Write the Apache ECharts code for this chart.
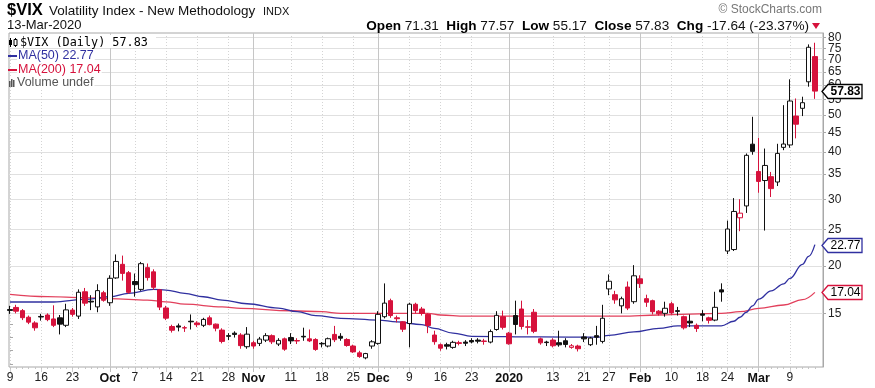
<!DOCTYPE html>
<html><head><meta charset="utf-8">
<script src="https://cdn.jsdelivr.net/npm/echarts@6/dist/echarts.min.js"></script>
<style>html,body{margin:0;padding:0;background:#fff}#c{width:875px;height:388px}</style>
</head><body><div id="c"></div>
<script>
// ---------- DATA ----------
const dates = [
'2019-09-09','2019-09-10','2019-09-11','2019-09-12','2019-09-13','2019-09-16','2019-09-17','2019-09-18','2019-09-19','2019-09-20','2019-09-23','2019-09-24','2019-09-25','2019-09-26','2019-09-27','2019-09-30',
'2019-10-01','2019-10-02','2019-10-03','2019-10-04','2019-10-07','2019-10-08','2019-10-09','2019-10-10','2019-10-11','2019-10-14','2019-10-15','2019-10-16','2019-10-17','2019-10-18','2019-10-21','2019-10-22','2019-10-23','2019-10-24','2019-10-25','2019-10-28','2019-10-29','2019-10-30','2019-10-31',
'2019-11-01','2019-11-04','2019-11-05','2019-11-06','2019-11-07','2019-11-08','2019-11-11','2019-11-12','2019-11-13','2019-11-14','2019-11-15','2019-11-18','2019-11-19','2019-11-20','2019-11-21','2019-11-22','2019-11-25','2019-11-26','2019-11-27','2019-11-29',
'2019-12-02','2019-12-03','2019-12-04','2019-12-05','2019-12-06','2019-12-09','2019-12-10','2019-12-11','2019-12-12','2019-12-13','2019-12-16','2019-12-17','2019-12-18','2019-12-19','2019-12-20','2019-12-23','2019-12-24','2019-12-26','2019-12-27','2019-12-30','2019-12-31',
'2020-01-02','2020-01-03','2020-01-06','2020-01-07','2020-01-08','2020-01-09','2020-01-10','2020-01-13','2020-01-14','2020-01-15','2020-01-16','2020-01-17','2020-01-21','2020-01-22','2020-01-23','2020-01-24','2020-01-27','2020-01-28','2020-01-29','2020-01-30','2020-01-31',
'2020-02-03','2020-02-04','2020-02-05','2020-02-06','2020-02-07','2020-02-10','2020-02-11','2020-02-12','2020-02-13','2020-02-14','2020-02-18','2020-02-19','2020-02-20','2020-02-21','2020-02-24','2020-02-25','2020-02-26','2020-02-27','2020-02-28',
'2020-03-02','2020-03-03','2020-03-04','2020-03-05','2020-03-06','2020-03-09','2020-03-10','2020-03-11','2020-03-12','2020-03-13'];

const opens = [
15.35,15.55,15.25,14.65,14.15,14.72,14.85,14.5,14.6,13.95,15.3,14.75,17.1,16.15,15.6,17.0,
16.0,18.6,20.2,19.2,18.2,17.35,19.8,19.3,17.3,15.5,13.85,13.9,13.75,14.3,14.15,13.95,14.6,14.05,13.55,13.1,13.3,13.15,12.25,
12.55,12.5,12.75,13.1,12.45,12.85,12.95,12.72,13.05,12.85,12.8,12.5,12.3,13.2,13.05,12.8,12.3,11.8,11.45,12.3,
12.5,14.7,16.2,14.6,14.25,14.1,15.85,15.4,14.9,13.15,12.4,12.4,12.2,12.55,12.6,12.72,12.75,12.68,12.6,13.6,14.7,
13.3,14.8,15.4,13.82,15.1,12.85,12.6,12.75,12.55,12.7,12.2,12.3,13.0,12.4,13.1,12.65,17.4,16.8,15.7,17.6,16.1,
18.5,16.4,16.2,15.2,15.0,15.9,15.25,14.7,14.3,13.95,14.95,14.6,14.4,17.3,21.9,22.1,26.8,28.8,41.9,
35.5,33.6,34.4,33.3,41.1,41.7,49.7,52.1,61.2,71.31];
const closes = [
15.27,15.20,14.61,14.22,13.74,14.67,14.44,13.95,14.05,15.32,14.91,17.05,15.96,16.07,17.22,16.24,
18.56,20.56,19.12,17.04,17.86,20.28,18.64,17.57,15.58,14.57,13.54,13.8,13.72,14.25,14.0,14.46,14.01,13.71,12.65,13.05,13.2,12.33,13.22,
12.30,12.83,13.10,12.62,12.73,12.07,12.69,12.68,13.0,12.69,12.05,12.46,12.86,12.78,12.9,12.34,11.87,11.54,11.75,12.62,
14.91,15.96,14.80,14.52,13.62,15.86,15.25,14.99,13.94,12.63,12.14,12.29,12.58,12.50,12.51,12.61,12.67,12.65,13.43,14.82,13.78,
12.47,14.02,13.85,13.79,13.45,12.54,12.56,12.32,12.39,12.42,12.32,12.10,12.85,12.91,12.98,14.56,18.23,16.28,16.39,15.49,18.84,
17.97,16.05,15.15,14.96,15.47,15.04,15.18,13.74,14.15,13.68,14.83,14.38,15.56,17.08,25.03,27.85,27.56,39.16,40.11,
33.42,36.82,31.99,39.62,41.94,54.46,47.30,53.90,75.47,57.83];
const lows = [
14.95,15.0,14.4,14.05,13.5,14.35,14.3,13.8,13.2,13.8,14.7,14.5,15.7,15.3,15.1,16.1,
15.7,18.5,18.3,16.9,16.6,17.2,18.3,17.3,15.3,14.4,13.35,13.45,13.4,13.6,13.8,13.8,13.95,13.45,12.5,12.75,12.95,12.1,12.1,
12.1,12.3,12.6,12.45,12.3,11.95,12.45,12.45,12.7,12.6,11.95,12.2,12.2,12.6,12.7,12.25,11.8,11.45,11.35,12.1,
12.4,14.55,14.6,14.2,13.4,12.2,15.0,14.8,13.3,12.4,11.95,12.05,12.1,12.35,12.3,12.5,12.5,12.4,12.5,13.5,13.6,
12.4,13.2,13.6,13.2,13.3,12.4,12.3,12.2,12.25,12.2,12.1,11.9,12.6,12.3,12.4,12.5,16.75,15.9,15.0,15.3,15.9,
17.5,15.6,14.9,14.8,14.7,14.9,14.8,13.6,13.8,13.4,14.3,14.1,14.3,16.1,21.5,21.9,24.7,27.6,39.3,
31.2,24.8,30.4,32.5,40.4,41.0,43.4,49.7,59.4,55.17];
const highs = [
15.7,15.8,15.4,14.8,14.3,14.95,15.0,15.75,14.85,15.9,15.5,17.35,17.5,16.75,17.9,17.2,
18.9,21.45,21.3,19.4,19.1,20.5,20.3,19.6,17.4,15.7,14.0,14.1,13.9,14.9,14.3,14.6,14.8,14.1,13.7,13.3,13.45,13.3,13.8,
12.7,13.0,13.3,13.2,12.9,12.95,13.3,12.9,13.75,13.6,12.9,12.6,12.95,13.9,13.3,12.9,12.4,11.95,11.8,12.75,
15.2,17.99,16.4,14.8,14.3,16.0,16.0,15.6,15.0,13.5,12.5,12.55,12.7,12.7,12.75,12.9,12.9,12.85,13.6,15.2,15.25,
13.4,16.2,16.2,14.4,15.4,12.95,12.7,12.9,13.5,12.9,12.45,12.4,13.3,13.0,13.9,15.8,19.0,17.2,16.6,18.2,20.1,
18.9,16.8,16.3,15.3,16.1,16.1,15.6,14.8,14.9,14.1,15.3,14.7,17.1,18.0,26.35,30.2,30.0,39.6,49.48,
43.5,40.8,35.4,42.0,53.1,62.12,55.3,55.9,76.8,77.57];
const prevClose = 15.00; // close before the first day shown

const ma50Dates = ['2019-09-09','2019-09-18','2019-09-25','2019-10-01','2019-10-04','2019-10-10','2019-10-14','2019-10-17','2019-10-22','2019-10-25','2019-10-31','2019-11-07','2019-11-12','2019-11-15','2019-11-21','2019-12-02','2019-12-05','2019-12-11','2019-12-13','2019-12-18','2019-12-23','2020-01-09','2020-01-23','2020-01-27','2020-01-31','2020-02-06','2020-02-11','2020-02-21','2020-02-25','2020-02-26','2020-02-27','2020-02-28','2020-03-02','2020-03-04','2020-03-06','2020-03-09','2020-03-11','2020-03-12','2020-03-13'];
const ma50Values = [16.07,16.07,16.33,16.59,16.94,17.36,17.27,16.94,16.59,16.26,15.9,15.49,15.15,14.8,14.55,14.40,14.25,14.0,13.7,13.3,13.05,13.0,12.98,13.12,13.4,13.7,13.9,13.9,14.3,14.65,15.1,15.7,16.36,17.2,17.95,18.55,20.2,21.2,22.77];

const ma200Dates = ['2019-09-09','2019-09-17','2019-09-25','2019-10-01','2019-10-09','2019-10-14','2019-10-17','2019-10-25','2019-10-30','2019-11-11','2019-11-18','2019-11-21','2019-12-12','2019-12-16','2019-12-20','2020-01-29','2020-02-06','2020-02-21','2020-02-26','2020-03-02','2020-03-06','2020-03-11','2020-03-13'];
const ma200Values = [16.83,16.6,16.5,16.4,16.26,16.09,15.86,15.6,15.46,15.24,15.15,15.0,15.0,14.85,14.75,14.75,14.85,15.0,15.15,15.46,15.78,16.3,17.04];

const yTickValues = [15,20,25,30,35,40,45,50,55,60,65,70,75,80];
const yMinorTicks = [11,12,13,14];

const weekTickDates = ['2019-09-09','2019-09-16','2019-09-23','2019-10-07','2019-10-14','2019-10-21','2019-10-28','2019-11-11','2019-11-18','2019-11-25','2019-12-09','2019-12-16','2019-12-23','2020-01-13','2020-01-21','2020-01-27','2020-02-10','2020-02-18','2020-02-24','2020-03-09'];
const weekTickLabels = ['9','16','23','7','14','21','28','11','18','25','9','16','23','13','21','27','10','18','24','9'];
const monthTickDates = ['2019-10-01','2019-11-01','2019-12-02','2020-01-02','2020-02-03','2020-03-02'];
const monthTickLabels = ['Oct','Nov','Dec','2020','Feb','Mar'];

const headerInfo = {open:'71.31', high:'77.57', low:'55.17', close:'57.83', chg:'-17.64 (-23.37%)', date:'13-Mar-2020'};
const lastMA50 = 22.77, lastMA200 = 17.04;

// ---------- BUILD ----------
const RED = '#d6123c', BLACK = '#111111', BLUE = '#3030a0', PINK = '#e2405c';
const FONT = '"Liberation Sans", Arial, sans-serif';
const idxOf = d => dates.indexOf(d);
const weekIdx = weekTickDates.map(idxOf);
const monthIdx = monthTickDates.map(idxOf);
const dayIdx = dates.map((d, i) => i);
const fmt = (arr, labels) => v => { const k = arr.indexOf(Math.round(v)); return k >= 0 ? labels[k] : ''; };

const candleData = dates.map((d, i) => {
  const o = opens[i], c = closes[i];
  const pc = i > 0 ? closes[i - 1] : prevClose;
  const col = c < pc ? RED : BLACK;
  const fill = c > o ? '#ffffff' : col;
  return { value: [i, o, c, lows[i], highs[i]],
    itemStyle: { color: fill, color0: fill, borderColor: col, borderColor0: col, borderColorDoji: col } };
});

const xMin = -0.16, xMax = 130.3, yMin = 10.83, yMax = 82.3;
const baseX = { type: 'value', min: xMin, max: xMax, position: 'bottom', axisLine: { show: false, onZero: false } };
const baseY = { type: 'log', logBase: 10, min: yMin, max: yMax, position: 'right' };
const yLabelStyle = { formatter: v => String(Math.round(v)), fontSize: 12, color: '#222', margin: 5,
  fontFamily: FONT, hideOverlap: false, showMinLabel: true, showMaxLabel: true };
// labels split over two overlaid axes so neighbouring labels never get auto-hidden
const yLabelsA = yTickValues.filter((v, k) => k % 2 === 0);
const yLabelsB = yTickValues.filter((v, k) => k % 2 === 1);

const chart = echarts.init(document.getElementById('c'));
chart.setOption({
  animation: false,
  textStyle: { fontFamily: FONT },
  grid: { left: 9, right: 52, top: 33, bottom: 21, show: true, borderColor: '#a8a8a8', borderWidth: 1, backgroundColor: '#fff' },
  xAxis: [
    Object.assign({}, baseX, {
      axisTick: { show: true, customValues: weekIdx, length: 5, lineStyle: { color: '#cfcfcf' } },
      axisLabel: { customValues: weekIdx, formatter: fmt(weekIdx, weekTickLabels), fontSize: 12, color: '#222', margin: 5, fontFamily: FONT, hideOverlap: false },
      splitLine: { show: true, lineStyle: { color: '#d4d4d4', type: [1, 2] } }
    }),
    Object.assign({}, baseX, {
      axisTick: { show: true, customValues: monthIdx, length: 5, lineStyle: { color: '#bdbdbd' } },
      axisLabel: { customValues: monthIdx, formatter: fmt(monthIdx, monthTickLabels), fontSize: 12.5, fontWeight: 'bold', color: '#111', margin: 5, fontFamily: FONT, hideOverlap: false },
      splitLine: { show: true, lineStyle: { color: '#c6c6c6' } }
    }),
    Object.assign({}, baseX, {
      axisTick: { show: true, customValues: dayIdx, length: 2, lineStyle: { color: '#c4c4c4' } },
      axisLabel: { show: false }, splitLine: { show: false }
    })
  ],
  yAxis: [
    Object.assign({}, baseY, {
      axisLine: { show: true, onZero: false, lineStyle: { color: '#a8a8a8' } },
      axisTick: { show: true, customValues: yTickValues, length: 3, lineStyle: { color: '#a8a8a8' } },
      axisLabel: Object.assign({ customValues: yLabelsA }, yLabelStyle),
      splitLine: { show: true, lineStyle: { color: '#e0e0e0' } }
    }),
    Object.assign({}, baseY, {
      axisLine: { show: false },
      axisTick: { show: true, customValues: yMinorTicks, length: 3, lineStyle: { color: '#a8a8a8' } },
      axisLabel: Object.assign({ customValues: yLabelsB }, yLabelStyle),
      splitLine: { show: false }
    })
  ],
  series: [
    { type: 'line', xAxisIndex: 0, yAxisIndex: 0, data: ma200Dates.map((d, k) => [idxOf(d), ma200Values[k]]),
      smooth: 0.4, smoothMonotone: 'x', symbol: 'none', lineStyle: { color: PINK, width: 1.3 }, z: 2 },
    { type: 'line', xAxisIndex: 0, yAxisIndex: 0, data: ma50Dates.map((d, k) => [idxOf(d), ma50Values[k]]),
      smooth: 0.4, smoothMonotone: 'x', symbol: 'none', lineStyle: { color: BLUE, width: 1.3 }, z: 2 },
    { type: 'candlestick', xAxisIndex: 0, yAxisIndex: 0, data: candleData, barWidth: 5, z: 3 }
  ]
});

// ---------- TEXT / TAGS ----------
const yPx = v => chart.convertToPixel({ yAxisIndex: 0 }, v);
function tag(v, text, stroke, bold) {
  const y = Math.round(yPx(v)) + 0.5, tx = 822, r = 862, h = 7;
  return [
    { type: 'polygon', z: 100, shape: { points: [[tx, y], [tx + 6, y - h], [r, y - h], [r, y + h], [tx + 6, y + h]] },
      style: { fill: '#fff', stroke: stroke, lineWidth: 1.3 } },
    { type: 'text', z: 101, style: { text: text, x: (tx + 6 + r) / 2 + 0.5, y: y + 0.5, align: 'center', verticalAlign: 'middle',
      font: (bold ? 'bold ' : '') + '12px ' + FONT, fill: '#000' } }
  ];
}
const T = (text, x, y, font, fill, align, extra) => Object.assign({ type: 'text', z: 50,
  style: Object.assign({ text, x, y, font, fill: fill || '#000', align: align || 'left', verticalAlign: 'middle' }, extra || {}) });

const graphics = [
  T('$VIX', 7, 10.5, 'bold 16.5px ' + FONT, '#000'),
  T('Volatility Index - New Methodology', 49, 11, '13.5px ' + FONT, '#111'),
  T('INDX', 263, 11.5, '11px ' + FONT, '#111'),
  T(headerInfo.date, 7, 25, '13px ' + FONT, '#111'),
  T('\u00A9 StockCharts.com', 822, 10, '12px ' + FONT, '#777', 'right'),
  { type: 'text', z: 50, style: {
      text: '{b|Open} ' + headerInfo.open + '  {b|High} ' + headerInfo.high + '  {b|Low} ' + headerInfo.low + '  {b|Close} ' + headerInfo.close + '  {b|Chg} ' + headerInfo.chg,
      x: 809, y: 26, align: 'right', verticalAlign: 'middle', font: '13.6px ' + FONT, fill: '#111',
      rich: { b: { fontWeight: 'bold', fontSize: 13.6, fontFamily: FONT, fill: '#000' } } } },
  { type: 'polygon', z: 50, shape: { points: [[812, 23], [820, 23], [816, 29]] }, style: { fill: RED } },
  // legend
  { type: 'rect', z: 49, shape: { x: 10, y: 35, width: 146, height: 13 }, style: { fill: '#fff' } },
  { type: 'line', z: 50, shape: { x1: 10.5, y1: 38, x2: 10.5, y2: 47 }, style: { stroke: '#000', lineWidth: 1 } },
  { type: 'rect', z: 51, shape: { x: 9, y: 40, width: 3, height: 5 }, style: { fill: '#000' } },
  { type: 'line', z: 50, shape: { x1: 15.5, y1: 38, x2: 15.5, y2: 47 }, style: { stroke: '#000', lineWidth: 1 } },
  { type: 'rect', z: 51, shape: { x: 14, y: 39.5, width: 3, height: 6 }, style: { fill: '#fff', stroke: '#000', lineWidth: 1 } },
  T('$VIX (Daily) ' + headerInfo.close, 20, 43, '11.8px "DejaVu Sans Mono", monospace', '#000'),
  T('MA(50) ' + lastMA50.toFixed(2), 17, 56, '12.5px ' + FONT, BLUE, 'left', { backgroundColor: '#fff', padding: [0, 1] }),
  { type: 'line', z: 50, shape: { x1: 8, y1: 56, x2: 17, y2: 56 }, style: { stroke: BLUE, lineWidth: 2 } },
  T('MA(200) ' + lastMA200.toFixed(2), 17, 70, '12.5px ' + FONT, RED, 'left', { backgroundColor: '#fff', padding: [0, 1] }),
  { type: 'line', z: 50, shape: { x1: 8, y1: 70, x2: 17, y2: 70 }, style: { stroke: RED, lineWidth: 2 } },
  { type: 'rect', z: 49, shape: { x: 10, y: 77, width: 6, height: 10 }, style: { fill: '#fff' } },
  { type: 'rect', z: 50, shape: { x: 9, y: 81, width: 1.5, height: 6 }, style: { fill: '#555' } },
  { type: 'rect', z: 50, shape: { x: 11, y: 79, width: 1.5, height: 8 }, style: { fill: '#555' } },
  { type: 'rect', z: 50, shape: { x: 13, y: 80, width: 1.5, height: 7 }, style: { fill: '#555' } },
  T('Volume undef', 16, 83, '12.5px ' + FONT, '#555', 'left', { backgroundColor: '#fff', padding: [0, 1] })
].concat(tag(closes[closes.length - 1], headerInfo.close, '#000', true))
 .concat(tag(lastMA50, lastMA50.toFixed(2), BLUE, false))
 .concat(tag(lastMA200, lastMA200.toFixed(2), RED, false));

chart.setOption({ graphic: graphics });
</script>
</body></html>
